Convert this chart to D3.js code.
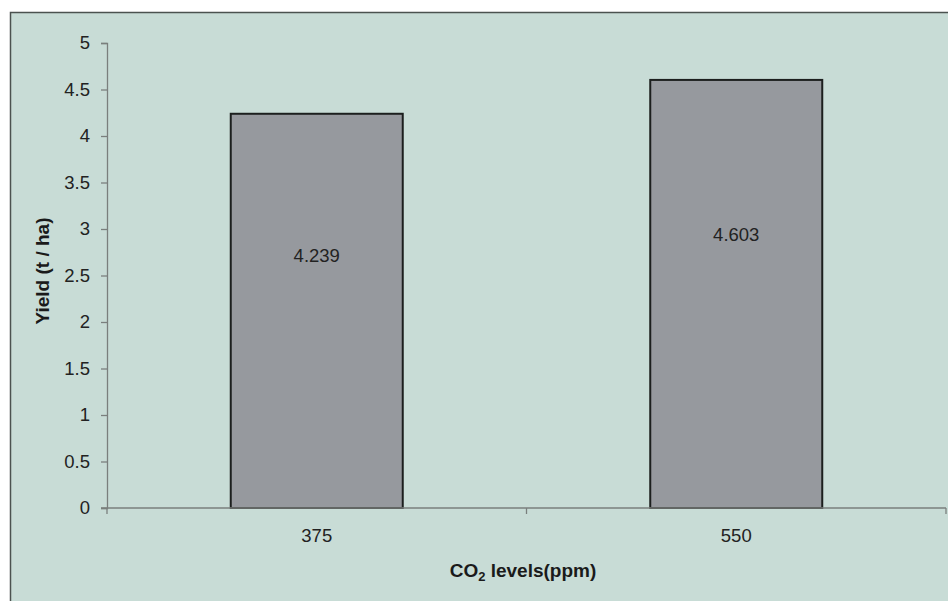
<!DOCTYPE html>
<html>
<head>
<meta charset="utf-8">
<script src="https://cdn.jsdelivr.net/npm/d3@7"></script>
<style>
  html, body { margin: 0; padding: 0; background: #ffffff; }
  svg { display: block; }
</style>
</head>
<body>
<svg id="chart" width="948" height="601"></svg>
<script>
// CO2 concentration levels (ppm) and the corresponding grain yield (t / ha)
const co2Levels = ["375", "550"];
const yieldValues = [4.239, 4.603];
const yTicks = [0, 0.5, 1, 1.5, 2, 2.5, 3, 3.5, 4, 4.5, 5];

const svg = d3.select("#chart");
const W = 948, H = 601;
const margin = { left: 107, right: 2, top: 43, bottom: 93 };
const font = "'Liberation Sans', Arial, sans-serif";
const labelSize = 18.5;
const titleSize = 19;

// Chart panel background
svg.append("rect")
  .attr("x", 10.5).attr("y", 12.5)
  .attr("width", W + 10).attr("height", H + 10)
  .attr("fill", "#c8dcd6")
  .attr("stroke", "#4b524f").attr("stroke-width", 1.5);

const x = d3.scaleBand()
  .domain(co2Levels)
  .range([margin.left, W - margin.right])
  .paddingInner(0.59)
  .paddingOuter(0.295);

const y = d3.scaleLinear()
  .domain([0, 5])
  .range([H - margin.bottom, margin.top]);

// Bars
svg.append("g").selectAll("rect")
  .data(yieldValues)
  .join("rect")
  .attr("x", (d, i) => x(co2Levels[i]))
  .attr("y", d => y(d))
  .attr("width", x.bandwidth())
  .attr("height", d => y(0) - y(d))
  .attr("fill", "#96999e")
  .attr("stroke", "#1c1f1e")
  .attr("stroke-width", 2);

// Value labels inside bars
svg.append("g").selectAll("text")
  .data(yieldValues)
  .join("text")
  .attr("x", (d, i) => x(co2Levels[i]) + x.bandwidth() / 2)
  .attr("y", d => y(d * 0.64))
  .attr("dy", "0.35em")
  .attr("text-anchor", "middle")
  .attr("font-family", font)
  .attr("font-size", labelSize)
  .attr("fill", "#222")
  .text(d => d.toFixed(3));

// Y axis
const yAxis = svg.append("g")
  .attr("transform", `translate(${margin.left},0)`)
  .call(d3.axisLeft(y).tickValues(yTicks).tickSize(6).tickPadding(11)
    .tickFormat(d => d3.format("")(d)));
yAxis.select(".domain").attr("stroke", "#7a7f7d").attr("stroke-width", 1.3);
yAxis.selectAll(".tick line").attr("stroke", "#7a7f7d").attr("stroke-width", 1.3);
yAxis.selectAll(".tick text")
  .attr("font-family", font).attr("font-size", labelSize).attr("fill", "#222");

// X axis: ticks sit between categories, labels at category centres
const xAxisG = svg.append("g")
  .attr("transform", `translate(0,${y(0)})`);
xAxisG.append("line")
  .attr("x1", margin.left - 6).attr("x2", W - margin.right)
  .attr("stroke", "#7a7f7d").attr("stroke-width", 1.3);
const xEdges = [x.range()[0], (x(co2Levels[0]) + x.bandwidth() + x(co2Levels[1])) / 2, x.range()[1]];
xAxisG.selectAll("line.tick")
  .data(xEdges)
  .join("line")
  .attr("class", "tick")
  .attr("x1", d => d).attr("x2", d => d)
  .attr("y1", 0).attr("y2", 6)
  .attr("stroke", "#7a7f7d").attr("stroke-width", 1.3);
xAxisG.selectAll("text")
  .data(co2Levels)
  .join("text")
  .attr("x", d => x(d) + x.bandwidth() / 2)
  .attr("y", 34)
  .attr("text-anchor", "middle")
  .attr("font-family", font).attr("font-size", labelSize).attr("fill", "#222")
  .text(d => d);

// Axis titles
const xTitle = svg.append("text")
  .attr("x", 523).attr("y", 577)
  .attr("text-anchor", "middle")
  .attr("font-family", font).attr("font-size", titleSize).attr("font-weight", "bold")
  .attr("fill", "#1a1a1a");
xTitle.append("tspan").text("CO");
xTitle.append("tspan").attr("font-size", 13).attr("dy", 4).text("2");
xTitle.append("tspan").attr("dy", -4).text(" levels(ppm)");

svg.append("text")
  .attr("transform", "translate(49,271) rotate(-90)")
  .attr("text-anchor", "middle")
  .attr("font-family", font).attr("font-size", titleSize).attr("font-weight", "bold")
  .attr("fill", "#1a1a1a")
  .text("Yield (t / ha)");
</script>
</body>
</html>
